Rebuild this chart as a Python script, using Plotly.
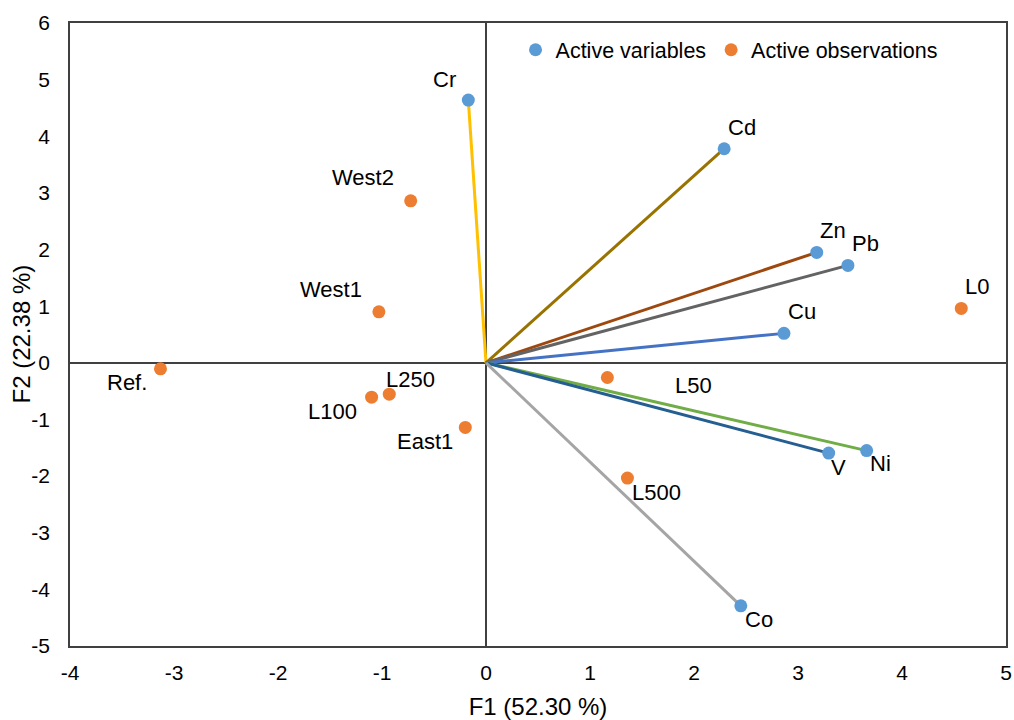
import plotly.graph_objects as go

# Active variables (loadings)
var_names = ["Cr", "Cd", "Zn", "Pb", "Cu", "Ni", "V", "Co"]
var_x = [-0.17, 2.29, 3.18, 3.48, 2.865, 3.66, 3.295, 2.45]
var_y = [4.64, 3.78, 1.95, 1.72, 0.52, -1.55, -1.594, -4.29]
var_line_colors = ["#FFC000", "#997300", "#9E480E", "#636363", "#4472C4", "#70AD47", "#255E91", "#A5A5A5"]
# label pixel offsets (dx right, dy down)
var_lbl_dx = [-24, 18, 16, 18, 18, 14, 10, 18]
var_lbl_dy = [-21, -21, -22, -22, -22, 13, 14, 14]

# Active observations
obs_names = ["West2", "West1", "Ref.", "L100", "L250", "East1", "L0", "L50", "L500"]
obs_x = [-0.724, -1.03, -3.13, -1.10, -0.93, -0.199, 4.57, 1.167, 1.36]
obs_y = [2.86, 0.90, -0.106, -0.606, -0.553, -1.14, 0.96, -0.259, -2.035]
obs_lbl_dx = [-48, -48, -33, -39, 21, -40, 16, 86, 29]
obs_lbl_dy = [-23, -22, 14, 14, -15, 14, -22, 8, 14]

# Tick labels
x_ticks = [-4, -3, -2, -1, 0, 1, 2, 3, 4, 5]
x_ticklabels = ["-4", "-3", "-2", "-1", "0", "1", "2", "3", "4", "5"]
y_ticks = [-5, -4, -3, -2, -1, 0, 1, 2, 3, 4, 5, 6]
y_ticklabels = ["-5", "-4", "-3", "-2", "-1", "0", "1", "2", "3", "4", "5", "6"]

fig = go.Figure()

for name, x, y, c in zip(var_names, var_x, var_y, var_line_colors):
    fig.add_trace(go.Scatter(x=[0, x], y=[0, y], mode="lines",
                             line=dict(color=c, width=3),
                             showlegend=False, hoverinfo="skip"))

fig.add_trace(go.Scatter(x=var_x, y=var_y, mode="markers", name="Active variables",
                         text=var_names,
                         marker=dict(color="#5B9BD5", size=13)))
fig.add_trace(go.Scatter(x=obs_x, y=obs_y, mode="markers", name="Active observations",
                         text=obs_names,
                         marker=dict(color="#ED7D31", size=13)))

for names, xs, ys, dxs, dys in [(var_names, var_x, var_y, var_lbl_dx, var_lbl_dy),
                                (obs_names, obs_x, obs_y, obs_lbl_dx, obs_lbl_dy)]:
    for n, x, y, dx, dy in zip(names, xs, ys, dxs, dys):
        fig.add_annotation(x=x, y=y, text=n, showarrow=False,
                           xanchor="center", yanchor="middle",
                           xshift=dx, yshift=-dy,
                           font=dict(size=22, color="#000000"))

# y-axis title (placed as rotated text to match position)
fig.add_annotation(x=0, y=0.5, xref="paper", yref="paper", text="F2 (22.38 %)",
                   showarrow=False, textangle=-90, xanchor="center", yanchor="middle",
                   xshift=-49, font=dict(size=24, color="#000000"))

axis_common = dict(
    showgrid=False, automargin=False,
    zeroline=True, zerolinecolor="#404040", zerolinewidth=1.5,
    showline=True, mirror=True, linecolor="#404040", linewidth=1.5,
    ticks="", tickfont=dict(size=21, color="#000000"),
    title_font=dict(size=24, color="#000000"),
    tickmode="array",
)

fig.update_xaxes(range=[-4, 5], tickvals=x_ticks, ticktext=x_ticklabels,
                 ticklabelstandoff=7,
                 title_text="F1 (52.30 %)", title_standoff=16, **axis_common)
fig.update_yaxes(range=[-5, 6], tickvals=y_ticks, ticktext=y_ticklabels,
                 ticklabelstandoff=14, **axis_common)

fig.update_layout(
    width=1014, height=720,
    margin=dict(l=70, r=8, t=23, b=74),
    plot_bgcolor="white", paper_bgcolor="white",
    font=dict(family="Liberation Sans, Arial, sans-serif", size=21, color="#000000"),
    legend=dict(orientation="h", x=0.476, y=0.957, xanchor="left", yanchor="middle",
                bgcolor="rgba(0,0,0,0)", font=dict(size=21.5),
                itemwidth=30, tracegroupgap=0),
)

fig.write_html("out.html", config={"displayModeBar": False},
               post_script="document.body.style.margin='0';document.body.style.overflow='hidden';")
